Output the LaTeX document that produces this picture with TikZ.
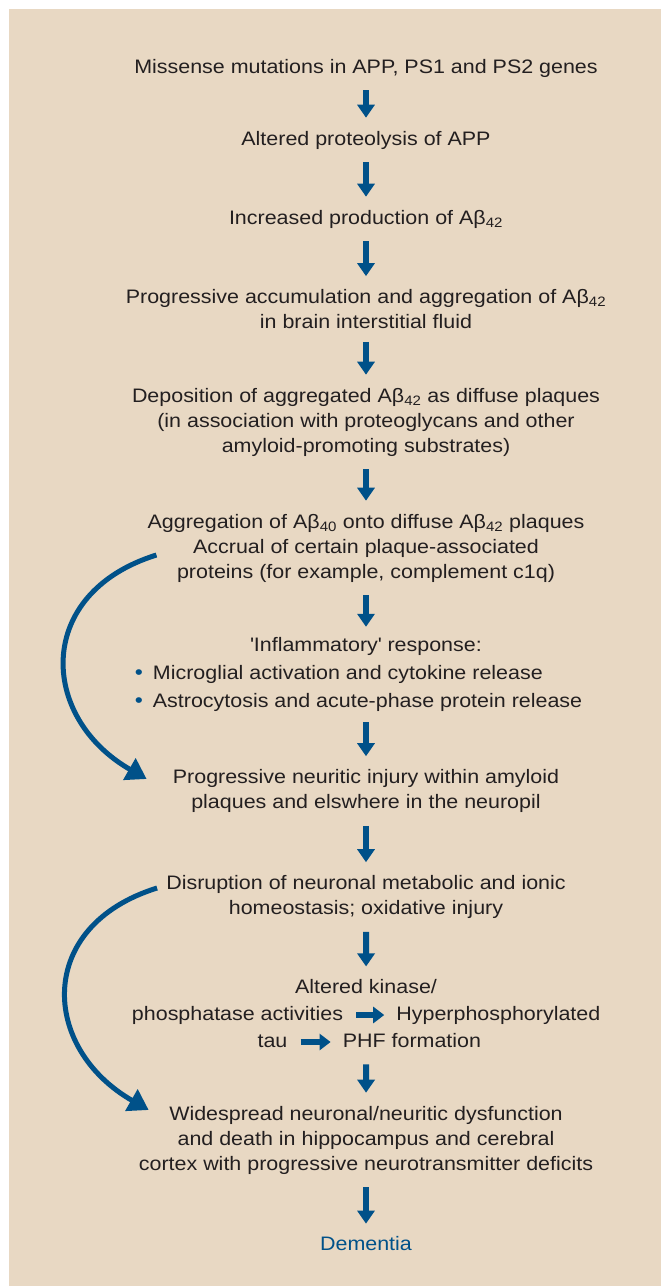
\documentclass[tikz,border=0pt]{standalone}
\usepackage{fontspec}
\setmainfont{Liberation Sans}[FakeStretch=1.1]
\usetikzlibrary{arrows.meta,positioning,fit}
\definecolor{sand}{RGB}{232,216,195}
\definecolor{fblue}{RGB}{0,81,137}
\definecolor{ink}{RGB}{35,31,32}
\newcommand{\Ab}[1]{Aβ\textsubscript{#1}}
\newcommand{\bul}{\textcolor{fblue}{\fontsize{21}{21}\selectfont •}}
\tikzset{
  txt/.style={align=center, inner sep=0pt, text=ink},
  part/.style={inner sep=0pt, text=ink, text height=14pt, text depth=4pt},
  down/.style={draw=fblue, line width=6pt, -{Triangle[width=17pt,length=13pt]}, shorten <=13pt, shorten >=13pt},
  side/.style={draw=fblue, line width=6.5pt, -{Triangle[width=16pt,length=11pt]}, shorten <=13pt, shorten >=12pt},
  bypass/.style={draw=fblue, line width=5pt, -{Triangle[width=24pt,length=20pt]}}
}
\begin{document}
\begin{tikzpicture}[x=1pt, y=-1pt, font=\fontsize{19.5}{25}\selectfont]
	\fill[sand] (9,9) rectangle (661,1286);
	\useasboundingbox (0,0) rectangle (661,1286);
	\node[txt] (n1) at (366,68) {Missense mutations in APP, PS1 and PS2 genes};
	\node[txt] (n2) [below of=n1, node distance=72pt] {Altered proteolysis of APP};
	\node[txt] (n3) [below of=n2, node distance=79pt] {Increased production of \Ab{42}};
	\node[txt] (n4) [below of=n3, node distance=90pt] {Progressive accumulation and aggregation of \Ab{42}\\in brain interstitial fluid};
	\node[txt] (n5) [below of=n4, node distance=113pt] {Deposition of aggregated \Ab{42} as diffuse plaques\\(in association with proteoglycans and other\\amyloid-promoting substrates)};
	\node[txt] (n6) [below of=n5, node distance=126pt] {Aggregation of \Ab{40} onto diffuse \Ab{42} plaques\\Accrual of certain plaque-associated\\proteins (for example, complement c1q)};
	\node[txt] (n7) [below of=n6, node distance=126pt] {\renewcommand{\arraystretch}{1.12}%
	  \begin{tabular}{@{}c@{\hspace{10pt}}l@{\hspace{15pt}}}
	  \multicolumn{2}{@{}c@{}}{\textquotesingle Inflammatory\textquotesingle{} response:}\\
	  \bul & Microglial activation and cytokine release\\
	  \bul & Astrocytosis and acute-phase protein release
	  \end{tabular}};
	\node[txt] (n8) [below of=n7, node distance=117pt] {Progressive neuritic injury within amyloid\\plaques and elswhere in the neuropil};
	\node[txt] (n9) [below of=n8, node distance=106pt] {Disruption of neuronal metabolic and ionic\\homeostasis; oxidative injury};
	\node[txt] (n10a) [below of=n9, node distance=90pt] {Altered kinase/};
	\node[part] (n10b) [below of=n10a, node distance=28pt, xshift=-128.5pt] {phosphatase activities};
	\node[part] (n10c) [right=53pt of n10b] {Hyperphosphorylated};
	\node[part] (n10d) [below of=n10b, node distance=27pt, xshift=35pt] {tau};
	\node[part] (n10e) [right=55pt of n10d] {PHF formation};
	\node[fit=(n10a)(n10b)(n10c)(n10d)(n10e), inner sep=0pt] (n10) {};
	\node[txt] (n11) [below of=n10a, node distance=153pt] {Widespread neuronal/neuritic dysfunction\\and death in hippocampus and cerebral\\cortex with progressive neurotransmitter deficits};
	\node[txt, text=fblue] (n12) [below of=n11, node distance=104pt] {Dementia};
	\draw[down] (n1) -- (n2);
	\draw[down] (n2) -- (n3);
	\draw[down] (n3) -- (n4);
	\draw[down] (n4) -- (n5);
	\draw[down] (n5) -- (n6);
	\draw[down, shorten >=5pt] (n6) -- (n7);
	\draw[down, shorten <=6pt] (n7) -- (n8);
	\draw[down] (n8) -- (n9);
	\draw[down] (n9) -- (n10);
	\draw[down] (n10) -- (n11);
	\draw[down] (n11) -- (n12);
	\draw[side] (n10b) -- (n10c);
	\draw[side] (n10d) -- (n10e);
	\draw[bypass] ([shift={(9,7)}]n6.west) .. controls +(-122,38) and +(-108,-62) .. ([shift={(-26,-12)}]n8.west);
	\draw[bypass] ([shift={(-9,-9)}]n9.west) .. controls +(-122,38) and +(-108,-62) .. ([shift={(10,-30)}]n11.west);
\end{tikzpicture}
\end{document}
